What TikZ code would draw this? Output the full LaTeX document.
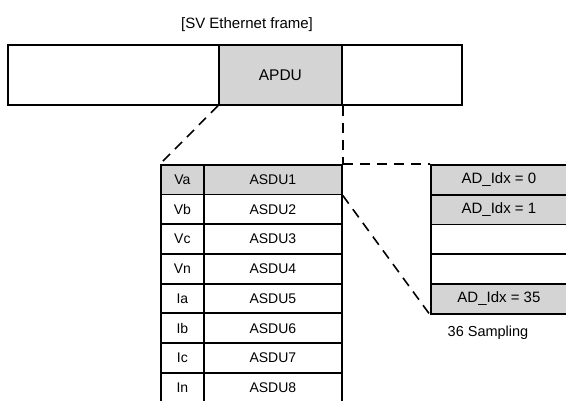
\documentclass[tikz,border=0pt]{standalone}
\usepackage{fontspec}
\setmainfont{Liberation Sans}
\begin{document}
\begin{tikzpicture}[x=1pt,y=-1pt,
  cell/.style={draw=black,line width=1.8pt,rectangle,inner sep=0pt,anchor=north west,font=\fontsize{14}{16}\selectfont},
  shaded/.style={fill=black!17},
  conn/.style={draw=black,line width=1.6pt,dash pattern=on 10pt off 7pt}]
\useasboundingbox (0,0) rectangle (566,401);
\node[font=\fontsize{15}{17}\selectfont] (title) at (247,25) {[SV Ethernet frame]};
% top frame
\node[cell,minimum width=211pt,minimum height=60pt] (fl) at (7,44) {};
\node[cell,shaded,minimum width=123pt,minimum height=60pt,font=\fontsize{15.5}{17}\selectfont] (apdu) at (218,44) {APDU};
\node[cell,minimum width=120pt,minimum height=60pt] (fr) at (341,44) {};
% left table
\foreach \i/\a/\b in {1/Va/ASDU1,2/Vb/ASDU2,3/Vc/ASDU3,4/Vn/ASDU4,5/Ia/ASDU5,6/Ib/ASDU6,7/Ic/ASDU7,8/In/ASDU8}{
  \pgfmathsetmacro{\yy}{164+(\i-1)*29.7}
  \ifnum\i=1
    \node[cell,shaded,minimum width=43pt,minimum height=29.7pt] (c\i) at (160,\yy) {\a};
    \node[cell,shaded,minimum width=138pt,minimum height=29.7pt] (asdu\i) at (203,\yy) {\b};
  \else
    \node[cell,minimum width=43pt,minimum height=29.7pt] (c\i) at (160,\yy) {\a};
    \node[cell,minimum width=138pt,minimum height=29.7pt] (asdu\i) at (203,\yy) {\b};
  \fi
}
% right table
\node[cell,shaded,minimum width=136pt,minimum height=29.8pt,font=\fontsize{15}{17}\selectfont] (ad0) at (430,164) {AD\_Idx = 0};
\node[cell,shaded,minimum width=136pt,minimum height=29.8pt,font=\fontsize{15}{17}\selectfont] (ad1) at (430,193.8) {AD\_Idx = 1};
\node[cell,minimum width=136pt,minimum height=29.8pt] (ad2) at (430,223.6) {};
\node[cell,minimum width=136pt,minimum height=29.8pt] (ad3) at (430,253.4) {};
\node[cell,shaded,minimum width=136pt,minimum height=29.8pt,font=\fontsize{15}{17}\selectfont] (ad35) at (430,283.2) {AD\_Idx = 35};
\node[font=\fontsize{14.5}{16}\selectfont] (samp) at (488,333) {36 Sampling};
% connectors
\draw[conn] (apdu.south west) -- (c1.north west);
\draw[conn] (apdu.south east) -- (asdu1.north east);
\draw[conn] (asdu1.north east) -- (ad0.north west);
\draw[conn] (asdu1.south east) -- (ad35.south west);
\end{tikzpicture}
\end{document}
